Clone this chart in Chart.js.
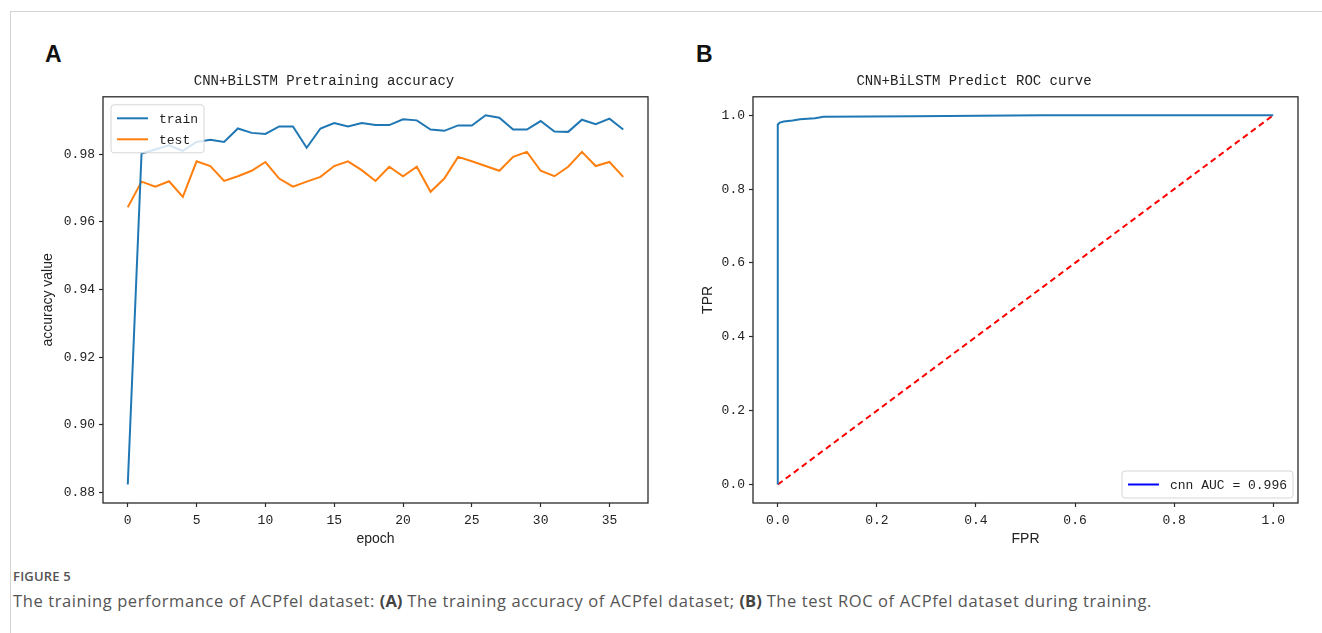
<!DOCTYPE html>
<html>
<head>
<meta charset="utf-8">
<script src="https://cdn.jsdelivr.net/npm/chart.js@4.4.1/dist/chart.umd.min.js"></script>
<style>
  html, body { margin: 0; padding: 0; background: #fff; }
  body { width: 1322px; height: 633px; position: relative; overflow: hidden; font-family: "Open Sans", sans-serif; }
  .frame { position: absolute; left: 10px; top: 11px; right: 0; bottom: 0; border-top: 1px solid #d4d4d4; border-left: 1px solid #d4d4d4; }
  .panel { position: absolute; font-family: "Liberation Sans", Arial, sans-serif; font-weight: bold; font-size: 23px; color: #111; }
  canvas { position: absolute; }
  .fig { position: absolute; left: 13px; top: 567px; font-size: 13px; font-weight: 600; color: #555; letter-spacing: 0.2px; }
  .cap { position: absolute; left: 13px; top: 589px; font-size: 16.5px; letter-spacing: 0.6px; color: #555; white-space: nowrap; }
  .cap b { color: #444; letter-spacing: 0; }
</style>
</head>
<body>
<div class="frame"></div>
<div class="panel" style="left:45px; top:41px;">A</div>
<div class="panel" style="left:696px; top:41px;">B</div>
<canvas id="accChart" width="680" height="500" style="left:0px; top:60px;"></canvas>
<canvas id="rocChart" width="680" height="500" style="left:650px; top:60px;"></canvas>
<div class="fig">FIGURE 5</div>
<div class="cap">The training performance of ACPfel dataset: <b>(A)</b> The training accuracy of ACPfel dataset; <b>(B)</b> The test ROC of ACPfel dataset during training.</div>

<script>
// pretraining accuracy per epoch
const epochs = [0,1,2,3,4,5,6,7,8,9,10,11,12,13,14,15,16,17,18,19,20,21,22,23,24,25,26,27,28,29,30,31,32,33,34,35,36];
const trainAcc = [0.8824, 0.9802, 0.9814, 0.9826, 0.9810, 0.9836, 0.9843, 0.9836, 0.9876, 0.9863,
                  0.9860, 0.9882, 0.9882, 0.9819, 0.9876, 0.9892, 0.9882, 0.9892, 0.9886, 0.9886,
                  0.9903, 0.9900, 0.9873, 0.9869, 0.9885, 0.9885, 0.9915, 0.9908, 0.9873, 0.9873,
                  0.9898, 0.9867, 0.9866, 0.9902, 0.9889, 0.9905, 0.9873];
const testAcc = [0.9643, 0.9719, 0.9704, 0.9720, 0.9674, 0.9779, 0.9765, 0.9721, 0.9735, 0.9751,
                 0.9777, 0.9728, 0.9704, 0.9719, 0.9733, 0.9765, 0.9779, 0.9753, 0.9721, 0.9763,
                 0.9735, 0.9763, 0.9689, 0.9728, 0.9792, 0.9779, 0.9765, 0.9751, 0.9792, 0.9807,
                 0.9751, 0.9735, 0.9763, 0.9807, 0.9765, 0.9777, 0.9733];
const accXTicks = [0, 5, 10, 15, 20, 25, 30, 35];
const accYTicks = [0.88, 0.90, 0.92, 0.94, 0.96, 0.98];

// ROC curve points
const rocFpr = [0, 0, 0.004, 0.012, 0.030, 0.045, 0.075, 0.092, 0.275, 0.535, 1.0];
const rocTpr = [0, 0.975, 0.980, 0.983, 0.986, 0.989, 0.992, 0.996, 0.997, 1.0, 1.0];
const diagFpr = [0, 1];
const diagTpr = [0, 1];
const rocTicks = [0, 0.2, 0.4, 0.6, 0.8, 1.0];
const aucLabel = 'cnn AUC = 0.996';

const MONO = '"Liberation Mono", "DejaVu Sans Mono", monospace';
const SANS = '"Liberation Sans", Arial, sans-serif';

function pairs(xs, ys) {
  return xs.map((x, i) => ({ x: x, y: ys[i] }));
}

// full box round the plot area, like a matplotlib axes frame
const boxFrame = {
  id: 'boxFrame',
  afterDatasetsDraw(chart) {
    const a = chart.chartArea, ctx = chart.ctx;
    ctx.save();
    ctx.strokeStyle = '#2a2a2a';
    ctx.lineWidth = 1.3;
    ctx.strokeRect(a.left, a.top, a.right - a.left, a.bottom - a.top);
    ctx.restore();
  }
};

// legend drawn inside the axes with a translucent rounded box
const insetLegend = {
  id: 'insetLegend',
  afterDraw(chart, args, opts) {
    const ctx = chart.ctx, a = chart.chartArea;
    const items = chart.data.datasets.filter(d => d.label);
    if (!items.length) return;
    ctx.save();
    ctx.font = '13px ' + MONO;
    const pad = 6, lineLen = 31, gap = 11, rowH = 21;
    const textW = Math.max(...items.map(d => ctx.measureText(d.label).width));
    const w = pad + lineLen + gap + textW + pad;
    const h = rowH * items.length + 6;
    let x = a.left + opts.inset, y = a.top + opts.inset;
    if (opts.corner === 'lower right') {
      x = a.right - opts.inset - w;
      y = a.bottom - opts.inset - h;
    }
    ctx.beginPath();
    ctx.roundRect(x, y, w, h, 3);
    ctx.fillStyle = 'rgba(255,255,255,0.82)';
    ctx.fill();
    ctx.strokeStyle = '#d6d6d6';
    ctx.lineWidth = 1;
    ctx.stroke();
    items.forEach((d, i) => {
      const cy = y + 3 + rowH * i + rowH / 2;
      ctx.beginPath();
      ctx.moveTo(x + pad, cy);
      ctx.lineTo(x + pad + lineLen, cy);
      ctx.strokeStyle = d.legendColor || d.borderColor;
      ctx.lineWidth = 2;
      ctx.stroke();
      ctx.fillStyle = '#222';
      ctx.textBaseline = 'middle';
      ctx.fillText(d.label, x + pad + lineLen + gap, cy + 1);
    });
    ctx.restore();
  }
};

function axisOptions(min, max, ticks, fmt, titleText, isY) {
  return {
    type: 'linear',
    min: min,
    max: max,
    afterBuildTicks: s => { s.ticks = ticks.map(v => ({ value: v })); },
    afterFit: s => { if (isY) s.width = 103; else s.height = 57; },
    grid: { drawOnChartArea: false, tickLength: 4, color: '#2a2a2a', tickWidth: 1.2 },
    border: { display: false },
    ticks: {
      padding: isY ? 4 : 6,
      color: '#222',
      font: { family: MONO, size: 13 },
      callback: v => v.toFixed(fmt)
    },
    title: {
      display: true,
      text: titleText,
      color: '#222',
      font: { family: SANS, size: 14 },
      padding: isY ? { top: 0, bottom: 0 } : { top: 0, bottom: 12 }
    }
  };
}

function baseOptions(titleText) {
  return {
    responsive: false,
    animation: false,
    events: [],
    layout: { padding: { left: 0, right: 32, top: 0, bottom: 0 } },
    plugins: {
      legend: { display: false },
      tooltip: { enabled: false },
      title: {
        display: true,
        text: titleText,
        color: '#222',
        font: { family: MONO, size: 14, weight: 'normal' },
        padding: { top: 13, bottom: 7 }
      }
    }
  };
}

// A: pretraining accuracy
const accOpts = baseOptions('CNN+BiLSTM Pretraining accuracy');
accOpts.scales = {
  x: axisOptions(-1.8, 37.8, accXTicks, 0, 'epoch', false),
  y: axisOptions(0.87695, 0.99696, accYTicks, 2, 'accuracy value', true)
};
accOpts.scales.y.title.padding = { top: 40, bottom: 0 };
accOpts.plugins.insetLegend = { corner: 'upper left', inset: 8 };

new Chart(document.getElementById('accChart'), {
  type: 'line',
  data: {
    datasets: [
      { label: 'train', data: pairs(epochs, trainAcc), borderColor: '#1f77b4', borderWidth: 2, pointRadius: 0, tension: 0 },
      { label: 'test', data: pairs(epochs, testAcc), borderColor: '#ff7f0e', borderWidth: 2, pointRadius: 0, tension: 0 }
    ]
  },
  options: accOpts,
  plugins: [boxFrame, insetLegend]
});

// B: ROC curve
const rocOpts = baseOptions('CNN+BiLSTM Predict ROC curve');
rocOpts.scales = {
  x: axisOptions(-0.05, 1.05, rocTicks, 1, 'FPR', false),
  y: axisOptions(-0.05, 1.05, rocTicks, 1, 'TPR', true)
};
rocOpts.scales.y.title.padding = { top: 50, bottom: 0 };
rocOpts.plugins.insetLegend = { corner: 'lower right', inset: 5 };

new Chart(document.getElementById('rocChart'), {
  type: 'line',
  data: {
    datasets: [
      { label: aucLabel, legendColor: '#0000ff', data: pairs(rocFpr, rocTpr), borderColor: '#1f77b4', borderWidth: 2, pointRadius: 0, tension: 0 },
      { data: pairs(diagFpr, diagTpr), borderColor: '#ff0000', borderWidth: 2, borderDash: [6, 4], pointRadius: 0, tension: 0 }
    ]
  },
  options: rocOpts,
  plugins: [boxFrame, insetLegend]
});
</script>
</body>
</html>
